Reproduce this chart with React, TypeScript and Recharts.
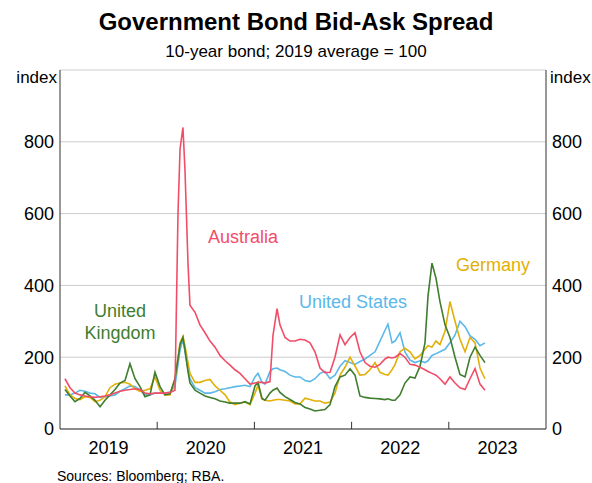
import React from "react";
import {
  LineChart,
  Line,
  XAxis,
  YAxis,
  CartesianGrid,
  ReferenceLine,
} from "recharts";

// decimal years
const dates = [
  2019.051, 2019.103, 2019.154, 2019.206, 2019.257, 2019.309, 2019.36, 2019.412,
  2019.463, 2019.514, 2019.566, 2019.617, 2019.669, 2019.72, 2019.772, 2019.823,
  2019.874, 2019.926, 2019.977, 2020.029, 2020.08, 2020.132, 2020.183,
  2020.214, 2020.235, 2020.265, 2020.286, 2020.317, 2020.337,
  2020.389, 2020.44, 2020.492, 2020.543, 2020.595, 2020.646, 2020.698, 2020.749,
  2020.8, 2020.852, 2020.903, 2020.955, 2021.006,
  2021.037, 2021.078, 2021.109, 2021.16, 2021.191, 2021.233, 2021.263,
  2021.315, 2021.366, 2021.418, 2021.469, 2021.521, 2021.572, 2021.623, 2021.675,
  2021.726, 2021.778, 2021.829, 2021.881, 2021.932, 2021.984, 2022.035, 2022.086,
  2022.138, 2022.189, 2022.241, 2022.292, 2022.344,
  2022.374, 2022.416,
  2022.447, 2022.498, 2022.549, 2022.601, 2022.652, 2022.704, 2022.755,
  2022.786, 2022.827, 2022.868,
  2022.909, 2022.961, 2023.012, 2023.064, 2023.115, 2023.167, 2023.218, 2023.27,
  2023.321, 2023.372,
];

const australia = [
  140, 115, 100, 95, 92, 90, 88, 90, 92, 95, 100, 105, 108, 110, 112, 110, 100, 98,
  100, 100, 100, 102, 108,
  600, 780, 840, 720, 460, 345,
  325, 290, 268, 245, 228, 205, 190, 178, 165, 155, 140, 125, 128,
  130, 130, 128, 132, 260, 335, 290,
  255, 245, 245, 250, 248, 240, 215, 170, 157, 158, 200, 262, 235, 255, 268, 215,
  185, 175, 172, 180, 195,
  200, 198,
  200, 210, 200, 180, 178, 172, 165,
  160, 155, 150,
  140, 125, 145, 128, 115, 110, 140, 168, 125, 108,
];

const unitedStates = [
  95, 95, 100, 108, 105, 100, 98, 88, 90, 92, 95, 105, 112, 120, 118, 108, 95, 95,
  100, 100, 100, 102, 120,
  180, 220, 250, 215, 165, 140,
  115, 108, 100, 100, 104, 110, 112, 115, 118, 120, 122, 118, 145,
  155, 130, 125, 160, 168, 170, 165,
  160, 150, 145, 145, 135, 132, 140, 155, 160, 140, 150, 175, 190, 185, 180, 188,
  195, 205, 215, 245, 275,
  292, 240,
  245, 268, 215, 192, 185, 190, 185,
  190, 205, 210,
  215, 222, 240, 262, 300, 285, 260, 250, 232, 240,
];

const unitedKingdom = [
  110, 92, 76, 85, 102, 92, 80, 62, 80, 95, 110, 128, 135, 182, 140, 118, 90, 95,
  158, 118, 95, 98, 140,
  195, 235, 255, 220, 160, 128,
  108, 100, 92, 88, 84, 78, 75, 72, 72, 72, 76, 70, 120,
  130, 85, 80, 100, 108, 114, 102,
  90, 82, 74, 70, 60, 56, 50, 52, 54, 68, 118, 145, 150, 168, 150, 92,
  88, 86, 85, 84, 82,
  84, 80,
  80, 95, 128, 145, 142, 175, 240,
  370, 462, 420,
  355, 290, 255, 200, 152, 145, 200, 228, 205, 185,
];

const germany = [
  120, 95, 85, 82, 90, 88, 76, 80, 90, 115, 125, 128, 130, 125, 112, 105, 108, 112,
  145, 108, 95, 95, 140,
  200, 240, 258, 232, 185, 155,
  130, 130, 135, 138, 120, 108, 95, 75, 68, 72, 75, 68, 100,
  122, 84, 80, 78, 80, 82, 82,
  80, 78, 70, 70, 86, 82, 78, 78, 72, 75, 100, 150, 172, 200, 175, 150,
  152, 165, 185, 158, 152,
  150, 165,
  180, 215, 225, 215, 195, 205, 222,
  232, 228, 245,
  235, 272, 355, 300, 250, 215, 255, 240, 170, 140,
];

const yearLabels = [2019.5, 2020.5, 2021.5, 2022.5, 2023.5];
const yearTicks = [2020, 2021, 2022, 2023];
const valueTicks = [0, 200, 400, 600, 800];

const data = dates.map((t, i) => ({
  t,
  au: australia[i],
  us: unitedStates[i],
  uk: unitedKingdom[i],
  de: germany[i],
}));

const AXIS = "#333";
const tickStyle = { fontSize: 18, fill: "#000" };

const Lbl = ({
  x,
  y,
  color,
  children,
}: {
  x: number;
  y: number;
  color: string;
  children: React.ReactNode;
}) => (
  <div
    style={{
      position: "absolute",
      left: x,
      top: y,
      transform: "translate(-50%, -50%)",
      color,
      fontSize: 18,
      lineHeight: "22px",
      textAlign: "center",
      whiteSpace: "nowrap",
    }}
  >
    {children}
  </div>
);

export default function App() {
  return (
    <div
      style={{
        position: "absolute",
        left: 0,
        top: 0,
        width: 592,
        height: 483,
        background: "#fff",
        fontFamily: 'Arial, "Liberation Sans", sans-serif',
      }}
    >
      <LineChart
        width={592}
        height={483}
        data={data}
        margin={{ top: 70, right: 0, bottom: 0, left: 0 }}
      >
        <CartesianGrid vertical={false} stroke="#cccccc" xAxisId="x" yAxisId="l" />
        <XAxis
          xAxisId="x"
          dataKey="t"
          type="number"
          domain={[2019, 2024]}
          ticks={yearLabels}
          interval={0}
          tickFormatter={(v: number) => String(Math.floor(v))}
          tickLine={false}
          tickSize={0}
          tickMargin={12}
          height={54}
          axisLine={{ stroke: AXIS }}
          tick={tickStyle}
          allowDataOverflow
        />
        <XAxis
          xAxisId="top"
          dataKey="t"
          orientation="top"
          type="number"
          domain={[2019, 2024]}
          tick={false}
          tickLine={false}
          height={0}
          axisLine={{ stroke: AXIS }}
        />
        <YAxis
          yAxisId="l"
          domain={[0, 1000]}
          ticks={valueTicks}
          interval={0}
          width={60}
          tickLine={false}
          tickSize={0}
          tickMargin={6}
          axisLine={{ stroke: AXIS }}
          tick={tickStyle}
        />
        <YAxis
          yAxisId="r"
          orientation="right"
          domain={[0, 1000]}
          ticks={valueTicks}
          interval={0}
          width={46}
          tickLine={false}
          tickSize={0}
          tickMargin={6}
          axisLine={{ stroke: AXIS }}
          tick={tickStyle}
        />
        {yearTicks.map((y) => (
          <ReferenceLine
            key={y}
            xAxisId="x"
            yAxisId="l"
            segment={[
              { x: y, y: 0 },
              { x: y, y: 20 },
            ]}
            stroke={AXIS}
          />
        ))}
        {/* invisible copy so the right axis gets its scale */}
        <Line xAxisId="top" yAxisId="r" type="linear" dataKey="au" stroke="none" dot={false} activeDot={false} isAnimationActive={false} />
        <Line xAxisId="x" yAxisId="l" type="linear" dataKey="us" stroke="#5bb8ea" strokeWidth={1.6} dot={false} isAnimationActive={false} />
        <Line xAxisId="x" yAxisId="l" type="linear" dataKey="de" stroke="#e2b007" strokeWidth={1.6} dot={false} isAnimationActive={false} />
        <Line xAxisId="x" yAxisId="l" type="linear" dataKey="uk" stroke="#3f7d2f" strokeWidth={1.6} dot={false} isAnimationActive={false} />
        <Line xAxisId="x" yAxisId="l" type="linear" dataKey="au" stroke="#f24d68" strokeWidth={1.6} dot={false} isAnimationActive={false} />
      </LineChart>

      <div
        style={{
          position: "absolute",
          top: 8,
          width: "100%",
          textAlign: "center",
          fontSize: 24,
          fontWeight: "bold",
          lineHeight: "28px",
        }}
      >
        Government Bond Bid-Ask Spread
      </div>
      <div
        style={{
          position: "absolute",
          top: 41,
          width: "100%",
          textAlign: "center",
          fontSize: 17,
          lineHeight: "22px",
        }}
      >
        10-year bond; 2019 average = 100
      </div>
      <div style={{ position: "absolute", right: 592 - 57, top: 67, fontSize: 17, lineHeight: "22px" }}>
        index
      </div>
      <div style={{ position: "absolute", left: 550, top: 67, fontSize: 17, lineHeight: "22px" }}>
        index
      </div>

      <Lbl x={243} y={237} color="#f24d68">Australia</Lbl>
      <Lbl x={353} y={302} color="#5bb8ea">United States</Lbl>
      <Lbl x={120} y={322} color="#3f7d2f">
        United
        <br />
        Kingdom
      </Lbl>
      <Lbl x={493} y={265} color="#e2b007">Germany</Lbl>

      <div style={{ position: "absolute", left: 57, top: 467, fontSize: 14, lineHeight: "18px" }}>
        Sources: Bloomberg; RBA.
      </div>
    </div>
  );
}
